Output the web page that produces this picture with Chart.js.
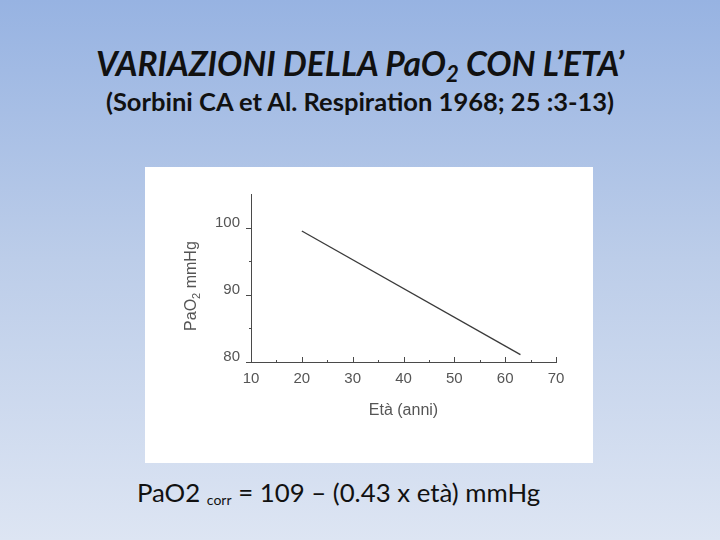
<!DOCTYPE html>
<html lang="it">
<head>
<meta charset="UTF-8">
<title>Variazioni della PaO2 con l'età</title>
<script src="https://cdn.jsdelivr.net/npm/chart.js"></script>
<style>
  html, body { margin: 0; padding: 0; }
  body {
    width: 720px; height: 540px; position: relative; overflow: hidden;
    background: linear-gradient(to bottom, #97b3e2 0%, #bccde9 48%, #dde5f3 100%);
    font-family: Lato, "Open Sans", sans-serif; color: #111;
  }
  .title {
    position: absolute; left: 0; width: 720px; top: 43px; text-align: center;
    font-size: 33.5px; font-weight: bold; font-style: italic; line-height: 40px;
  }
  .title sub { font-size: 22px; vertical-align: -6px; line-height: 0; }
  .subtitle {
    position: absolute; left: 0; width: 720px; top: 85px; text-align: center;
    font-size: 25.5px; font-weight: bold; line-height: 32px;
  }
  .box {
    position: absolute; left: 145px; top: 167px; width: 448px; height: 296px;
    background: #ffffff;
  }
  .formula {
    position: absolute; left: 137px; top: 477px; font-size: 25.8px; color: #111;
  }
  .formula sub { font-size: 14px; vertical-align: -3px; line-height: 0; }
</style>
</head>
<body>
  <div class="title">VARIAZIONI DELLA PaO<sub>2</sub> CON L’ETA’</div>
  <div class="subtitle">(Sorbini CA et Al. Respiration 1968; 25 :3-13)</div>
  <div class="box"><canvas id="chart" width="448" height="296"></canvas></div>
  <div class="formula">PaO2 <sub>corr</sub> = 109 – (0.43 x età) mmHg</div>

<script>
// data
const ages = [20, 63];
const pao2 = [99.5, 81.1];
const xTicks = [10, 20, 30, 40, 50, 60, 70];
const yTicks = [80, 90, 100];
const xMinorTicks = [15, 25, 35, 45, 55, 65];
const yMinorTicks = [85, 95];

const axisColor = '#4a4a4a';
const labelColor = '#555555';
const chartFont = '"Liberation Sans", Arial, sans-serif';

// small tick marks like the original figure (x ticks point up, y ticks point left)
const tickMarks = {
  id: 'tickMarks',
  afterDraw(chart) {
    const ctx = chart.ctx;
    const x = chart.scales.x, y = chart.scales.y;
    const bottom = chart.chartArea.bottom, left = chart.chartArea.left;
    ctx.save();
    ctx.strokeStyle = axisColor;
    ctx.lineWidth = 1;
    ctx.beginPath();
    xTicks.slice(1).forEach(v => {
      const px = Math.round(x.getPixelForValue(v)) + 0.5;
      ctx.moveTo(px, bottom); ctx.lineTo(px, bottom - 5);
    });
    xMinorTicks.forEach(v => {
      const px = Math.round(x.getPixelForValue(v)) + 0.5;
      ctx.moveTo(px, bottom); ctx.lineTo(px, bottom - 2);
    });
    yTicks.forEach(v => {
      const py = Math.round(y.getPixelForValue(v)) + 0.5;
      ctx.moveTo(left, py); ctx.lineTo(left - 5, py);
    });
    yMinorTicks.forEach(v => {
      const py = Math.round(y.getPixelForValue(v)) + 0.5;
      ctx.moveTo(left, py); ctx.lineTo(left - 2, py);
    });
    ctx.stroke();
    ctx.restore();
  }
};

// rotated y title with subscript 2
const yTitle = {
  id: 'yTitle',
  afterDraw(chart) {
    const ctx = chart.ctx;
    const cy = chart.scales.y.getPixelForValue(91.3);
    ctx.save();
    ctx.translate(51, cy);
    ctx.rotate(-Math.PI / 2);
    ctx.fillStyle = labelColor;
    ctx.textBaseline = 'alphabetic';
    const big = '16px ' + chartFont;
    const small = '11px ' + chartFont;
    ctx.font = big;
    const w1 = ctx.measureText('PaO').width;
    const w3 = ctx.measureText(' mmHg').width;
    ctx.font = small;
    const w2 = ctx.measureText('2').width;
    let sx = -(w1 + w2 + w3) / 2;
    ctx.font = big; ctx.fillText('PaO', sx, 0); sx += w1;
    ctx.font = small; ctx.fillText('2', sx, 4); sx += w2;
    ctx.font = big; ctx.fillText(' mmHg', sx, 0);
    ctx.restore();
  }
};

new Chart(document.getElementById('chart'), {
  type: 'line',
  data: {
    datasets: [{
      data: ages.map((a, i) => ({ x: a, y: pao2[i] })),
      borderColor: '#3a3a3a',
      borderWidth: 1.3,
      pointRadius: 0,
      fill: false,
      tension: 0
    }]
  },
  options: {
    responsive: false,
    animation: false,
    layout: { padding: { top: 27, right: 37, bottom: 43, left: 0 } },
    plugins: { legend: { display: false }, tooltip: { enabled: false } },
    scales: {
      x: {
        type: 'linear',
        min: 10, max: 70,
        afterBuildTicks: s => { s.ticks = xTicks.map(v => ({ value: v })); },
        afterFit: s => { s.height = 58; },
        grid: { display: false },
        border: { display: true, color: axisColor, width: 1 },
        ticks: {
          color: labelColor, padding: 0,
          font: { family: chartFont, size: 15 },
          maxRotation: 0
        },
        title: {
          display: true, text: 'Età (anni)', color: labelColor,
          font: { family: chartFont, size: 16 },
          padding: { top: 10, bottom: 0 }
        }
      },
      y: {
        type: 'linear',
        min: 80, max: 105,
        afterBuildTicks: s => { s.ticks = yTicks.map(v => ({ value: v })); },
        afterFit: s => { s.width = 106; },
        grid: { display: false },
        border: { display: true, color: axisColor, width: 1 },
        ticks: {
          color: labelColor, padding: 3, labelOffset: -5,
          font: { family: chartFont, size: 15 }
        }
      }
    }
  },
  plugins: [tickMarks, yTitle]
});
</script>
</body>
</html>
